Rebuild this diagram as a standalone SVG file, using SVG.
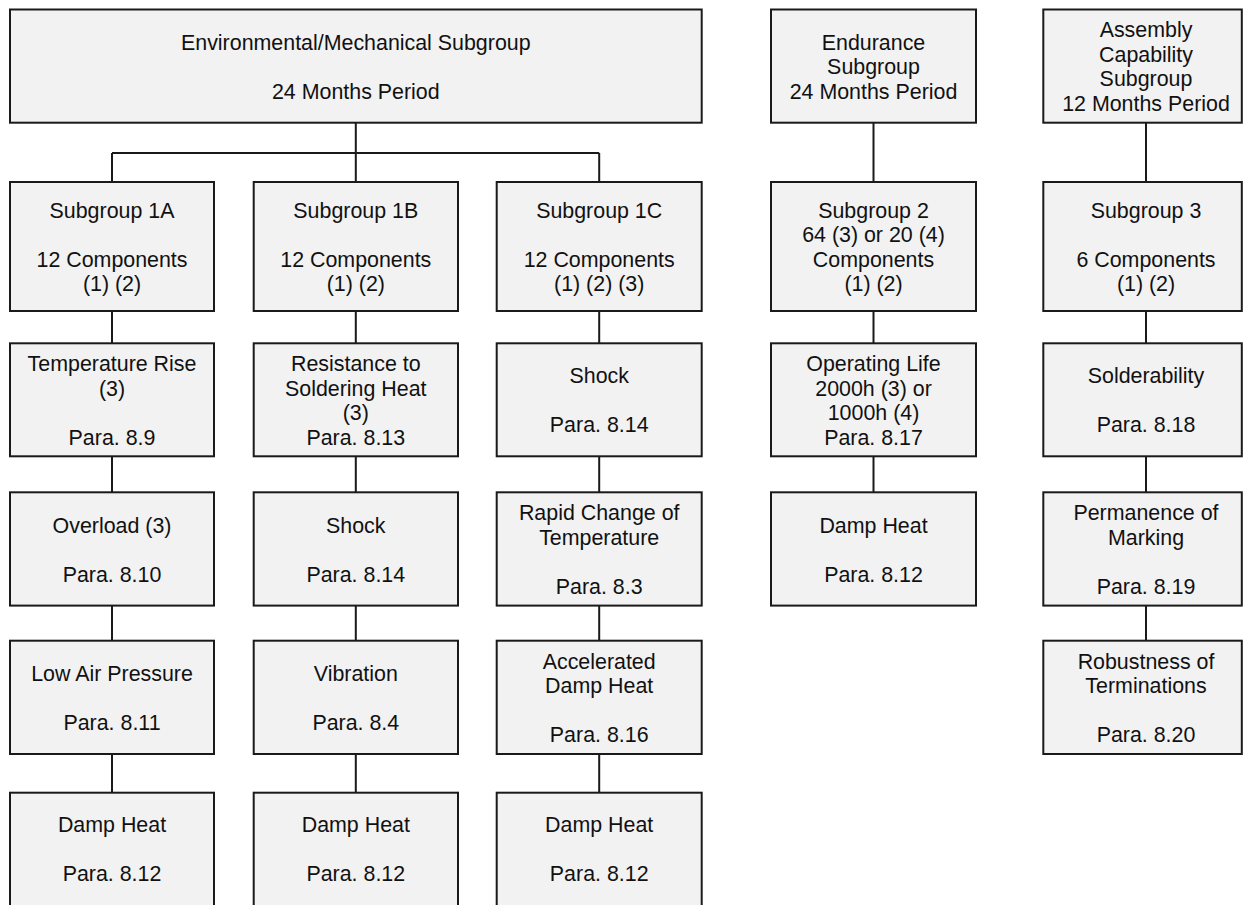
<svg xmlns="http://www.w3.org/2000/svg" width="1244" height="905" viewBox="0 0 1244 905">
<style>
.b{fill:#f2f2f2;stroke:#1a1a1a;stroke-width:2}
.t{font-family:"Liberation Sans",Arial,sans-serif;font-size:21.4px;fill:#111;text-anchor:middle}
.c{fill:none;stroke:#1a1a1a;stroke-width:2}
</style>
<rect width="1244" height="905" fill="#fff"/>
<g id="connectors" class="c">
<path d="M355.8,122.7V153M112,153H599.2M112,153V182M355.8,153V182M599.2,153V182"/>
<path d="M112,311V343.3M112,456.3V492.3M112,605.6V640.7M112,754V792.7"/>
<path d="M355.8,311V343.3M355.8,456.3V492.3M355.8,605.6V640.7M355.8,754V792.7"/>
<path d="M599.2,311V343.3M599.2,456.3V492.3M599.2,605.6V640.7M599.2,754V792.7"/>
<path d="M873.5,122.7V182M873.5,311V343.3M873.5,456.3V492.3"/>
<path d="M1146,122.7V182M1146,311V343.3M1146,456.3V492.3M1146,605.6V640.7"/>
</g>
<g id="env"><rect class="b" x="10" y="9.5" width="691.7" height="113.2"/><text class="t" x="355.8" y="49.6"><tspan x="355.8">Environmental/Mechanical Subgroup</tspan><tspan x="355.8" dy="49">24 Months Period</tspan></text></g>
<g id="endurance"><rect class="b" x="771" y="9.5" width="205" height="113.2"/><text class="t" x="873.5" y="49.6"><tspan x="873.5">Endurance</tspan><tspan x="873.5" dy="24.5">Subgroup</tspan><tspan x="873.5" dy="24.5">24 Months Period</tspan></text></g>
<g id="assembly"><rect class="b" x="1043.3" y="9.5" width="198.5" height="113.2"/><text class="t" x="1146" y="37.35"><tspan x="1146">Assembly</tspan><tspan x="1146" dy="24.5">Capability</tspan><tspan x="1146" dy="24.5">Subgroup</tspan><tspan x="1146" dy="24.5">12 Months Period</tspan></text></g>

<g id="sg1a"><rect class="b" x="10" y="182" width="204" height="129"/><text class="t" y="217.75"><tspan x="112">Subgroup 1A</tspan><tspan x="112" dy="49">12 Components</tspan><tspan x="112" dy="24.5">(1) (2)</tspan></text></g>
<g id="sg1b"><rect class="b" x="253.7" y="182" width="204.3" height="129"/><text class="t" y="217.75"><tspan x="355.8">Subgroup 1B</tspan><tspan x="355.8" dy="49">12 Components</tspan><tspan x="355.8" dy="24.5">(1) (2)</tspan></text></g>
<g id="sg1c"><rect class="b" x="496.7" y="182" width="205" height="129"/><text class="t" y="217.75"><tspan x="599.2">Subgroup 1C</tspan><tspan x="599.2" dy="49">12 Components</tspan><tspan x="599.2" dy="24.5">(1) (2) (3)</tspan></text></g>
<g id="sg2"><rect class="b" x="771" y="182" width="205" height="129"/><text class="t" y="217.75"><tspan x="873.5">Subgroup 2</tspan><tspan x="873.5" dy="24.5">64 (3) or 20 (4)</tspan><tspan x="873.5" dy="24.5">Components</tspan><tspan x="873.5" dy="24.5">(1) (2)</tspan></text></g>
<g id="sg3"><rect class="b" x="1043.3" y="182" width="198.5" height="129"/><text class="t" y="217.75"><tspan x="1146">Subgroup 3</tspan><tspan x="1146" dy="49">6 Components</tspan><tspan x="1146" dy="24.5">(1) (2)</tspan></text></g>

<g id="temprise"><rect class="b" x="10" y="343.3" width="204" height="113"/><text class="t" y="371.05"><tspan x="112">Temperature Rise</tspan><tspan x="112" dy="24.5">(3)</tspan><tspan x="112" dy="49">Para. 8.9</tspan></text></g>
<g id="resistance"><rect class="b" x="253.7" y="343.3" width="204.3" height="113"/><text class="t" y="371.05"><tspan x="355.8">Resistance to</tspan><tspan x="355.8" dy="24.5">Soldering Heat</tspan><tspan x="355.8" dy="24.5">(3)</tspan><tspan x="355.8" dy="24.5">Para. 8.13</tspan></text></g>
<g id="shock1c"><rect class="b" x="496.7" y="343.3" width="205" height="113"/><text class="t" y="383.3"><tspan x="599.2">Shock</tspan><tspan x="599.2" dy="49">Para. 8.14</tspan></text></g>
<g id="oplife"><rect class="b" x="771" y="343.3" width="205" height="113"/><text class="t" y="371.05"><tspan x="873.5">Operating Life</tspan><tspan x="873.5" dy="24.5">2000h (3) or</tspan><tspan x="873.5" dy="24.5">1000h (4)</tspan><tspan x="873.5" dy="24.5">Para. 8.17</tspan></text></g>
<g id="solder"><rect class="b" x="1043.3" y="343.3" width="198.5" height="113"/><text class="t" y="383.3"><tspan x="1146">Solderability</tspan><tspan x="1146" dy="49">Para. 8.18</tspan></text></g>

<g id="overload"><rect class="b" x="10" y="492.3" width="204" height="113.3"/><text class="t" y="532.5"><tspan x="112">Overload (3)</tspan><tspan x="112" dy="49">Para. 8.10</tspan></text></g>
<g id="shock1b"><rect class="b" x="253.7" y="492.3" width="204.3" height="113.3"/><text class="t" y="532.5"><tspan x="355.8">Shock</tspan><tspan x="355.8" dy="49">Para. 8.14</tspan></text></g>
<g id="rapid"><rect class="b" x="496.7" y="492.3" width="205" height="113.3"/><text class="t" y="520.25"><tspan x="599.2">Rapid Change of</tspan><tspan x="599.2" dy="24.5">Temperature</tspan><tspan x="599.2" dy="49">Para. 8.3</tspan></text></g>
<g id="damp2"><rect class="b" x="771" y="492.3" width="205" height="113.3"/><text class="t" y="532.5"><tspan x="873.5">Damp Heat</tspan><tspan x="873.5" dy="49">Para. 8.12</tspan></text></g>
<g id="permanence"><rect class="b" x="1043.3" y="492.3" width="198.5" height="113.3"/><text class="t" y="520.25"><tspan x="1146">Permanence of</tspan><tspan x="1146" dy="24.5">Marking</tspan><tspan x="1146" dy="49">Para. 8.19</tspan></text></g>

<g id="lowair"><rect class="b" x="10" y="640.7" width="204" height="113.3"/><text class="t" y="680.9"><tspan x="112">Low Air Pressure</tspan><tspan x="112" dy="49">Para. 8.11</tspan></text></g>
<g id="vibration"><rect class="b" x="253.7" y="640.7" width="204.3" height="113.3"/><text class="t" y="680.9"><tspan x="355.8">Vibration</tspan><tspan x="355.8" dy="49">Para. 8.4</tspan></text></g>
<g id="accel"><rect class="b" x="496.7" y="640.7" width="205" height="113.3"/><text class="t" y="668.65"><tspan x="599.2">Accelerated</tspan><tspan x="599.2" dy="24.5">Damp Heat</tspan><tspan x="599.2" dy="49">Para. 8.16</tspan></text></g>
<g id="robust"><rect class="b" x="1043.3" y="640.7" width="198.5" height="113.3"/><text class="t" y="668.65"><tspan x="1146">Robustness of</tspan><tspan x="1146" dy="24.5">Terminations</tspan><tspan x="1146" dy="49">Para. 8.20</tspan></text></g>

<g id="damp1a"><rect class="b" x="10" y="792.7" width="204" height="120"/><text class="t" y="831.7"><tspan x="112">Damp Heat</tspan><tspan x="112" dy="49">Para. 8.12</tspan></text></g>
<g id="damp1b"><rect class="b" x="253.7" y="792.7" width="204.3" height="120"/><text class="t" y="831.7"><tspan x="355.8">Damp Heat</tspan><tspan x="355.8" dy="49">Para. 8.12</tspan></text></g>
<g id="damp1c"><rect class="b" x="496.7" y="792.7" width="205" height="120"/><text class="t" y="831.7"><tspan x="599.2">Damp Heat</tspan><tspan x="599.2" dy="49">Para. 8.12</tspan></text></g>
</svg>
